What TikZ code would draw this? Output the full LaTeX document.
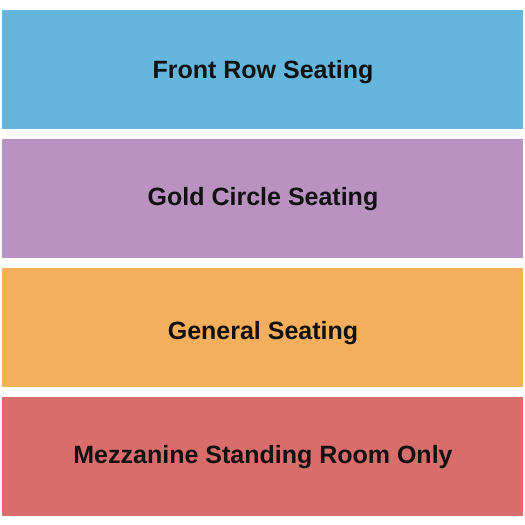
\documentclass[tikz,border=0pt]{standalone}
\usepackage{fontspec}
\setmainfont{Liberation Sans}
\definecolor{cblue}{HTML}{65B6DC}
\definecolor{cpurple}{HTML}{B992C1}
\definecolor{corange}{HTML}{F4AF5C}
\definecolor{cred}{HTML}{D96D6B}
\definecolor{ctext}{HTML}{111111}
\tikzset{
  section/.style={fill=#1, draw=none, minimum width=521pt, minimum height=118.5pt, inner sep=0pt, anchor=north west},
  seclabel/.style={anchor=base, inner sep=0pt, font=\fontsize{25}{30}\selectfont\bfseries, text=ctext},
}
\begin{document}
\begin{tikzpicture}[x=1pt,y=-1pt]
\useasboundingbox (0,0) rectangle (525,525);
\fill[white] (0,0) rectangle (525,525);
\node[section=cblue] (front) at (2,10) {};
\node[section=cpurple] (gold) at (2,139) {};
\node[section=corange] (general) at (2,268) {};
\node[section=cred] (mezz) at (2,397) {};
\node[seclabel] (frontlbl) at (263,78) {Front Row Seating};
\node[seclabel] (goldlbl) at (263,205.5) {Gold Circle Seating};
\node[seclabel] (generallbl) at (263,339.3) {General Seating};
\node[seclabel] (mezzlbl) at (263,463) {Mezzanine Standing Room Only};
\end{tikzpicture}
\end{document}
